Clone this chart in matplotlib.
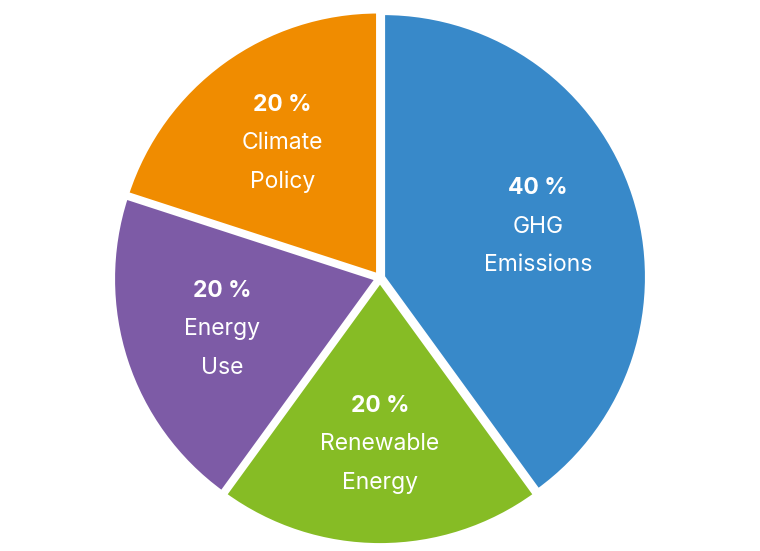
import matplotlib
matplotlib.use("Agg")
import matplotlib.pyplot as plt
import numpy as np

labels = ["GHG\nEmissions", "Renewable\nEnergy", "Energy\nUse", "Climate\nPolicy"]
values = [40, 20, 20, 20]
colors = ["#3889C9", "#86BC25", "#7D5BA6", "#F08C00"]

plt.rcParams['font.family'] = ['Inter', 'DejaVu Sans']

fig = plt.figure(figsize=(7.6, 5.51), dpi=100)
ax = fig.add_axes([0, 0, 1, 1])
R = 264.0

wedges, _ = ax.pie(values, colors=colors, startangle=90, counterclock=False,
                   explode=[0.012] * len(values),
                   wedgeprops=dict(edgecolor='white', linewidth=3))
ax.set_xlim(-380 / R, 380 / R)
ax.set_ylim(-273 / R, 278 / R)
ax.set_aspect('equal')
ax.axis('off')

total = sum(values)
ang = 90.0
for v, lab in zip(values, labels):
    span = 360.0 * v / total
    mid = np.deg2rad(ang - span / 2)
    ang -= span
    r = 0.63
    x, y = r * np.cos(mid), r * np.sin(mid)
    lines = lab.split("\n")
    ax.annotate(f"{v} %", (x, y), xytext=(0, 27.5), textcoords='offset points',
                ha='center', va='center', color='white', fontsize=16.5, fontweight='bold')
    for i, ln in enumerate(lines):
        ax.annotate(ln, (x, y), xytext=(0, -27.5 * i), textcoords='offset points',
                    ha='center', va='center', color='white', fontsize=16.5)

fig.savefig("out.png", dpi=100, facecolor='white')
